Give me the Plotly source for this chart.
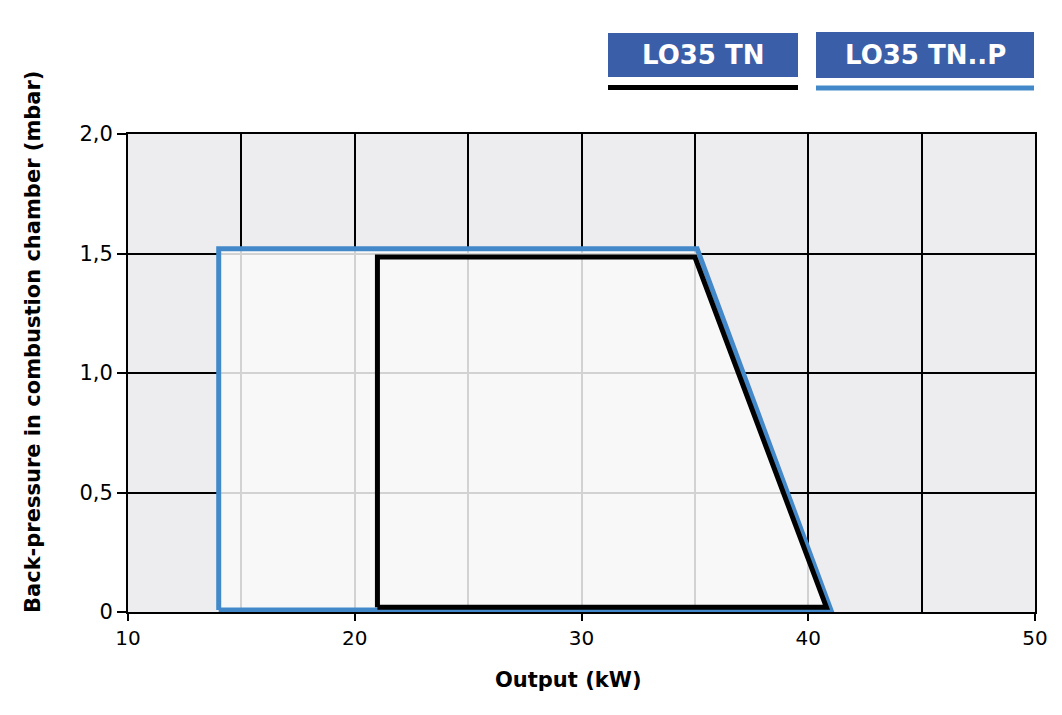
import plotly.graph_objects as go

# Working field data (Output kW, back-pressure mbar)
tnp_x = [14.0, 14.0, 35.1, 41.0, 14.0]
tnp_y = [0.008, 1.52, 1.52, 0.008, 0.008]
tn_x = [21.0, 21.0, 35.0, 40.8, 21.0]
tn_y = [0.02, 1.485, 1.485, 0.02, 0.02]

series_names = ["LO35 TN", "LO35 TN..P"]
y_ticks = [0, 0.5, 1.0, 1.5, 2.0]
y_ticktext = ["0", "0,5", "1,0", "1,5", "2,0"]
x_ticks = [10, 20, 30, 40, 50]
x_title = "Output (kW)"
y_title = "Back-pressure in combustion chamber (mbar)"

BOX = "#3b5ea8"
BLUE = "#4389c9"
FONT = "DejaVu Sans, Liberation Sans, sans-serif"

fig = go.Figure()
fig.add_trace(go.Scatter(x=tnp_x, y=tnp_y, mode="lines", fill="toself",
                         fillcolor="rgba(250,250,250,0.84)",
                         line=dict(color=BLUE, width=5), name=series_names[1],
                         showlegend=False))
fig.add_trace(go.Scatter(x=tn_x, y=tn_y, mode="lines",
                         line=dict(color="black", width=5), name=series_names[0],
                         showlegend=False))

fig.update_layout(
    width=1062, height=715,
    margin=dict(l=128, r=27, t=134, b=103),
    paper_bgcolor="white", plot_bgcolor="#ededef",
    font=dict(family=FONT, size=20, color="black"),
    showlegend=False,
)
fig.update_xaxes(
    range=[10, 50], tickvals=x_ticks, ticks="outside", ticklen=7, tickwidth=2,
    tickcolor="black", showgrid=True, gridcolor="black", gridwidth=2,
    minor=dict(dtick=5, showgrid=True, gridcolor="black", gridwidth=2, ticks=""),
    showline=True, linecolor="black", linewidth=1.5, mirror=True,
    zeroline=False, tickfont=dict(size=20),
)
fig.update_yaxes(
    range=[0, 2], tickvals=y_ticks, ticktext=y_ticktext, ticks="outside",
    ticklen=9, tickwidth=2, tickcolor="black", showgrid=True, gridcolor="black",
    gridwidth=2, showline=True, linecolor="black", linewidth=2, mirror=True,
    zeroline=False, tickfont=dict(size=21),
)

def px_x(p):
    return (p - 128) / 907

def px_y(p):
    return (612 - p) / 478

# Axis titles
fig.add_annotation(xref="paper", yref="paper", x=px_x(568), y=px_y(680),
                   text=f"<b>{x_title}</b>", showarrow=False,
                   xanchor="center", yanchor="middle", font=dict(size=21))
fig.add_annotation(xref="paper", yref="paper", x=px_x(33), y=px_y(342),
                   text=f"<b>{y_title}</b>", showarrow=False, textangle=-90,
                   xanchor="center", yanchor="middle", font=dict(size=21))

# Custom legend
boxes = [(608, 798, 33, 77, "black", 87.5), (816, 1034, 32, 78, BLUE, 88)]
for (x0, x1, y0, y1, lc, ly), name in zip(boxes, series_names):
    fig.add_shape(type="rect", xref="paper", yref="paper",
                  x0=px_x(x0), x1=px_x(x1), y0=px_y(y1), y1=px_y(y0),
                  fillcolor=BOX, line=dict(width=0))
    fig.add_shape(type="line", xref="paper", yref="paper",
                  x0=px_x(x0), x1=px_x(x1), y0=px_y(ly), y1=px_y(ly),
                  line=dict(color=lc, width=5))
    fig.add_annotation(xref="paper", yref="paper", x=px_x((x0 + x1) / 2),
                       y=px_y((y0 + y1) / 2), text=f"<b>{name}</b>",
                       showarrow=False, xanchor="center", yanchor="middle",
                       font=dict(size=26, color="white", family=FONT))

fig.write_html("out.html")
